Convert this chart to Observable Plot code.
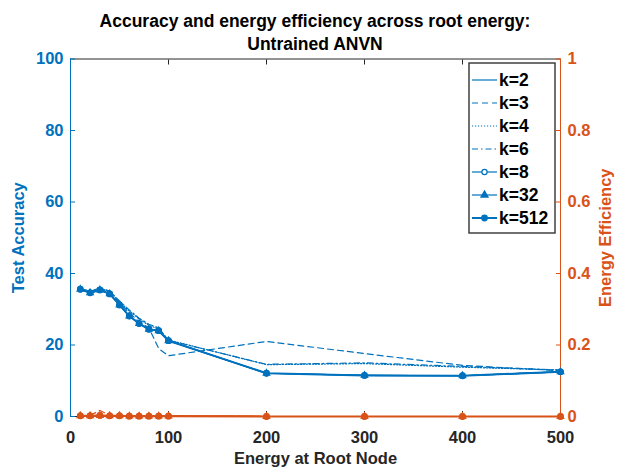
<!DOCTYPE html>
<html><head><meta charset="utf-8">
<script src="https://cdn.jsdelivr.net/npm/d3@7"></script>
<script src="https://cdn.jsdelivr.net/npm/@observablehq/plot@0.6"></script>
<style>
body{margin:0;background:#fff;}
#wrap{position:relative;width:618px;height:469px;font-family:"Liberation Sans",Arial,sans-serif;}
#title{position:absolute;left:70px;width:490px;top:10px;text-align:center;font-weight:bold;font-size:17.5px;line-height:23px;color:#000;}
#legend{position:absolute;left:0;top:0;}
</style></head>
<body>
<div id="wrap"><div id="chart"></div><div id="title">Accuracy and energy efficiency across root energy:<br>Untrained ANVN</div></div>
<script>
// ---- data ----
const energy = [10,20,30,40,50,60,70,80,90,100,200,300,400,500];
const kLabels = ["k=2","k=3","k=4","k=6","k=8","k=32","k=512"];
const accK2   = [35.6,34.6,35.4,34.3,31.2,28.1,26.0,24.4,24.0,21.2,12.1,11.5,11.4,12.5];
const accK3   = [35.6,34.8,35.8,34.8,31.8,29.0,26.5,24.8,19.0,17.0,21.0,17.6,14.3,12.8];
const accK4   = [35.8,35.0,35.8,35.0,32.0,29.5,27.3,25.5,24.5,21.4,14.5,14.8,13.8,13.0];
const accK6   = [35.8,35.0,36.0,35.1,32.3,29.8,27.5,25.8,24.8,21.3,14.6,15.0,14.0,13.0];
const accK8   = [35.6,34.6,35.4,34.3,31.2,28.1,26.0,24.4,24.0,21.2,12.1,11.5,11.4,12.5];
const accK32  = [35.6,34.6,35.4,34.3,31.2,28.1,26.0,24.4,24.0,21.2,12.1,11.5,11.4,12.5];
const accK512 = [35.6,34.6,35.4,34.3,31.2,28.1,26.0,24.4,24.0,21.2,12.1,11.5,11.4,12.5];
const effK2   = [0.002,0.002,0.003,0.002,0.002,0.001,0.001,0.001,0.001,0.001,0.000,0.000,0.000,0.000];
const effK3   = [0.002,0.003,0.017,0.003,0.002,0.001,0.001,0.001,0.001,0.001,0.000,0.000,0.000,0.000];
const effK4   = [0.002,0.002,0.003,0.002,0.002,0.001,0.001,0.001,0.001,0.001,0.000,0.000,0.000,0.000];
const effK6   = [0.002,0.002,0.003,0.002,0.002,0.001,0.001,0.001,0.001,0.001,0.000,0.000,0.000,0.000];
const effK8   = [0.002,0.002,0.003,0.002,0.002,0.001,0.001,0.001,0.001,0.001,0.000,0.000,0.000,0.000];
const effK32  = [0.002,0.002,0.003,0.002,0.002,0.001,0.001,0.001,0.001,0.001,0.000,0.000,0.000,0.000];
const effK512 = [0.002,0.002,0.003,0.002,0.002,0.001,0.001,0.001,0.001,0.001,0.000,0.000,0.000,0.000];
const xTicks = [0,100,200,300,400,500];
const yTicksLeft = [0,20,40,60,80,100];
const yTicksRight = [0,0.2,0.4,0.6,0.8,1];

// ---- styles ----
const BLUE = "#0072BD", ORANGE = "#D95319", DARK = "#262626";
const styles = [
  {dash: null, w: 1.2, sym: null},
  {dash: "6,4", w: 1.2, sym: null},
  {dash: "1.2,1.8", w: 1.2, sym: null},
  {dash: "6,3,1.5,3", w: 1.2, sym: null},
  {dash: null, w: 1.2, sym: "circle", fill: "none", r: 2.6},
  {dash: null, w: 1.2, sym: "triangle", fill: "solid", r: 2.4},
  {dash: null, w: 2, sym: "circle", fill: "solid", r: 2.8}
];
const accSeries = [accK2,accK3,accK4,accK6,accK8,accK32,accK512];
const effSeries = [effK2,effK3,effK4,effK6,effK8,effK32,effK512];

function rows(series, scale) {
  return kLabels.map((k,i)=> energy.map((e,j)=>({e, v: series[i][j]*scale, k})));
}
const accRows = rows(accSeries, 1);
const effRows = rows(effSeries, 100);

function seriesMarks(allRows, color) {
  const m = [];
  allRows.forEach((r,i)=>{
    const s = styles[i];
    m.push(Plot.line(r, {x:"e", y:"v", stroke: color, strokeWidth: s.w, strokeDasharray: s.dash}));
    if (s.sym) m.push(Plot.dot(r, {x:"e", y:"v", symbol: s.sym, r: s.r, stroke: color, strokeWidth: 1.2, fill: s.fill === "solid" ? color : "none"}));
  });
  return m;
}

const plot = Plot.plot({
  width: 618, height: 469,
  marginLeft: 70, marginRight: 58, marginTop: 58.5, marginBottom: 53,
  style: {fontFamily: "'Liberation Sans', Arial, sans-serif", fontSize: "16.5px", fontWeight: "bold", background: "#fff"},
  x: {domain: [0, 500], axis: null},
  y: {domain: [0, 100], axis: null},
  marks: [
    Plot.ruleY([100], {stroke: DARK, strokeWidth: 1}),
    Plot.ruleY([0], {stroke: DARK, strokeWidth: 1}),
    Plot.axisX(xTicks, {anchor: "top", tickSize: -5, tickFormat: () => "", stroke: DARK, label: null}),
    Plot.axisX(xTicks, {anchor: "bottom", tickSize: -5, tickPadding: 20, color: DARK, label: null, fontWeight: "bold"}),
    Plot.ruleX([0], {stroke: BLUE, strokeWidth: 1}),
    Plot.ruleX([500], {stroke: ORANGE, strokeWidth: 1}),
    Plot.axisY(yTicksLeft, {anchor: "left", tickSize: -5, tickPadding: 12, color: BLUE, label: null, fontWeight: "bold"}),
    Plot.axisY(yTicksRight.map(d => d*100), {anchor: "right", tickSize: -5, tickPadding: 12, color: ORANGE, label: null, fontWeight: "bold", tickFormat: d => String(d/100)}),
    ...seriesMarks(effRows, ORANGE),
    ...seriesMarks(accRows, BLUE),
    Plot.text(["Energy at Root Node"], {frameAnchor: "bottom", dy: 47, fill: DARK, fontWeight: "bold", fontSize: 16.5}),
    Plot.text(["Test Accuracy"], {frameAnchor: "left", textAnchor: "middle", dx: -52, rotate: -90, fill: BLUE, fontWeight: "bold", fontSize: 16.5}),
    Plot.text(["Energy Efficiency"], {frameAnchor: "right", textAnchor: "middle", dx: 45, rotate: -90, fill: ORANGE, fontWeight: "bold", fontSize: 16.5})
  ]
});
document.getElementById("chart").appendChild(plot);

// ---- legend overlay ----
const lg = d3.select("#wrap").append("svg").attr("id","legend").attr("width",618).attr("height",469);
const bx = 469, by = 63, bw = 86, bh = 170;
lg.append("rect").attr("x",bx).attr("y",by).attr("width",bw).attr("height",bh)
  .attr("fill","#fff").attr("stroke","#404040").attr("stroke-width",1.5);
kLabels.forEach((k,i)=>{
  const s = styles[i];
  const y = by + 17 + i*23;
  lg.append("line").attr("x1",bx+3).attr("x2",bx+28).attr("y1",y).attr("y2",y)
    .attr("stroke",BLUE).attr("stroke-width",s.w).attr("stroke-dasharray",s.dash);
  const cx = bx + 15.5;
  if (s.sym === "circle") lg.append("circle").attr("cx",cx).attr("cy",y).attr("r",s.r)
    .attr("stroke",BLUE).attr("stroke-width",1.2).attr("fill", s.fill === "solid" ? BLUE : "#fff");
  if (s.sym === "triangle") lg.append("path").attr("d", d3.symbol(d3.symbolTriangle, 22)()).attr("transform",`translate(${cx},${y})`)
    .attr("stroke",BLUE).attr("stroke-width",1.2).attr("fill",BLUE);
  lg.append("text").attr("x",bx+30).attr("y",y).attr("dy","0.35em")
    .attr("font-family","'Liberation Sans', Arial, sans-serif").attr("font-weight","bold").attr("font-size",17.5)
    .attr("fill","#000").text(k);
});
</script>
</body></html>
